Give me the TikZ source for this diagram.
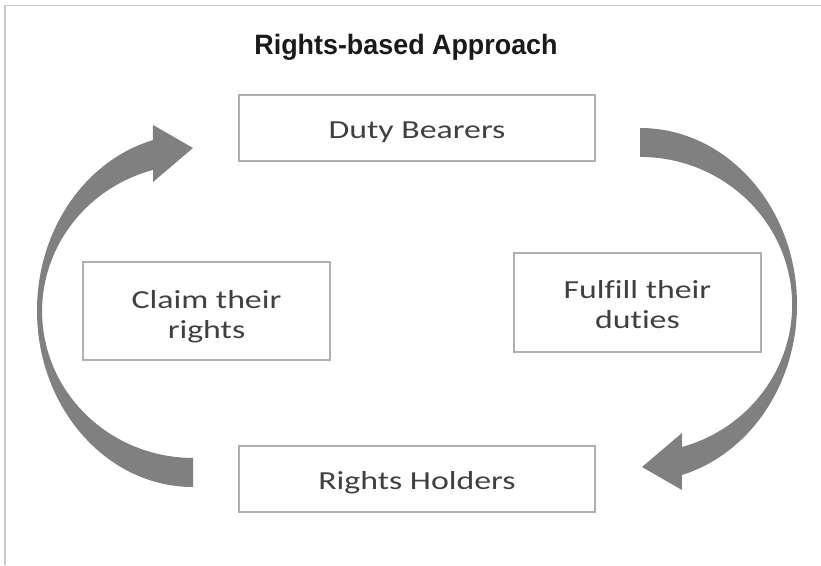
\documentclass[tikz,border=0pt]{standalone}
\usepackage{fontspec}
\newfontfamily\boxfont[FakeStretch=1.3,Ligatures=NoCommon]{Carlito}
\newfontfamily\titlefont[FakeStretch=0.96]{Liberation Sans}
\definecolor{framecol}{RGB}{200,200,200}
\definecolor{boxline}{RGB}{175,175,175}
\definecolor{boxtext}{RGB}{64,64,64}
\definecolor{arrowgray}{RGB}{128,128,128}
\definecolor{titlecol}{RGB}{26,26,26}
\tikzset{
  rbox/.style={draw=boxline, line width=1.5pt, fill=white, inner sep=0pt,
    text=boxtext, align=center, font=\boxfont\fontsize{26}{30}\selectfont},
  bigarrow/.style={fill=arrowgray}
}
\begin{document}
\begin{tikzpicture}[x=1pt,y=1pt]
\useasboundingbox (0,0) rectangle (821,565);
% outer frame (top and left edges)
\draw[framecol, line width=1.5pt] (5,0) -- (5,559.5) -- (821,559.5);
% title
\node[text=titlecol, font=\titlefont\bfseries\fontsize{28}{32}\selectfont] (title) at (406,518) {Rights-based Approach};
% boxes
\node[rbox, minimum width=356pt, minimum height=66pt, text height=26pt, text depth=5pt] (db) at (417,437) {Duty Bearers};
\node[rbox, minimum width=356pt, minimum height=66pt, text height=26pt, text depth=5pt] (rh) at (417,86) {Rights Holders};
\node[rbox, minimum width=247pt, minimum height=98pt, text height=60pt, text depth=5pt] (claim) at (206.5,254) {Claim their\\rights};
\node[rbox, minimum width=247pt, minimum height=99pt, text height=57pt, text depth=5pt] (fulfill) at (637.5,262.5) {Fulfill their\\duties};
% left curved arrow (Rights Holders -> Duty Bearers)
\fill[bigarrow] (193,78) arc[start angle=270, end angle=104.9, x radius=156, y radius=176.4]
  -- (153,440) -- (193,417) -- (153,383) -- (153,395)
  arc[start angle=105.4, end angle=270, x radius=151, y radius=146.6] -- cycle;
% right curved arrow (Duty Bearers -> Rights Holders)
\fill[bigarrow] (640,437) arc[start angle=90, end angle=-74.5, x radius=157, y radius=176.7]
  -- (682,75) -- (642,98) -- (682,132) -- (682,118)
  arc[start angle=-74, end angle=90, x radius=152, y radius=147.9] -- cycle;
\end{tikzpicture}
\end{document}
